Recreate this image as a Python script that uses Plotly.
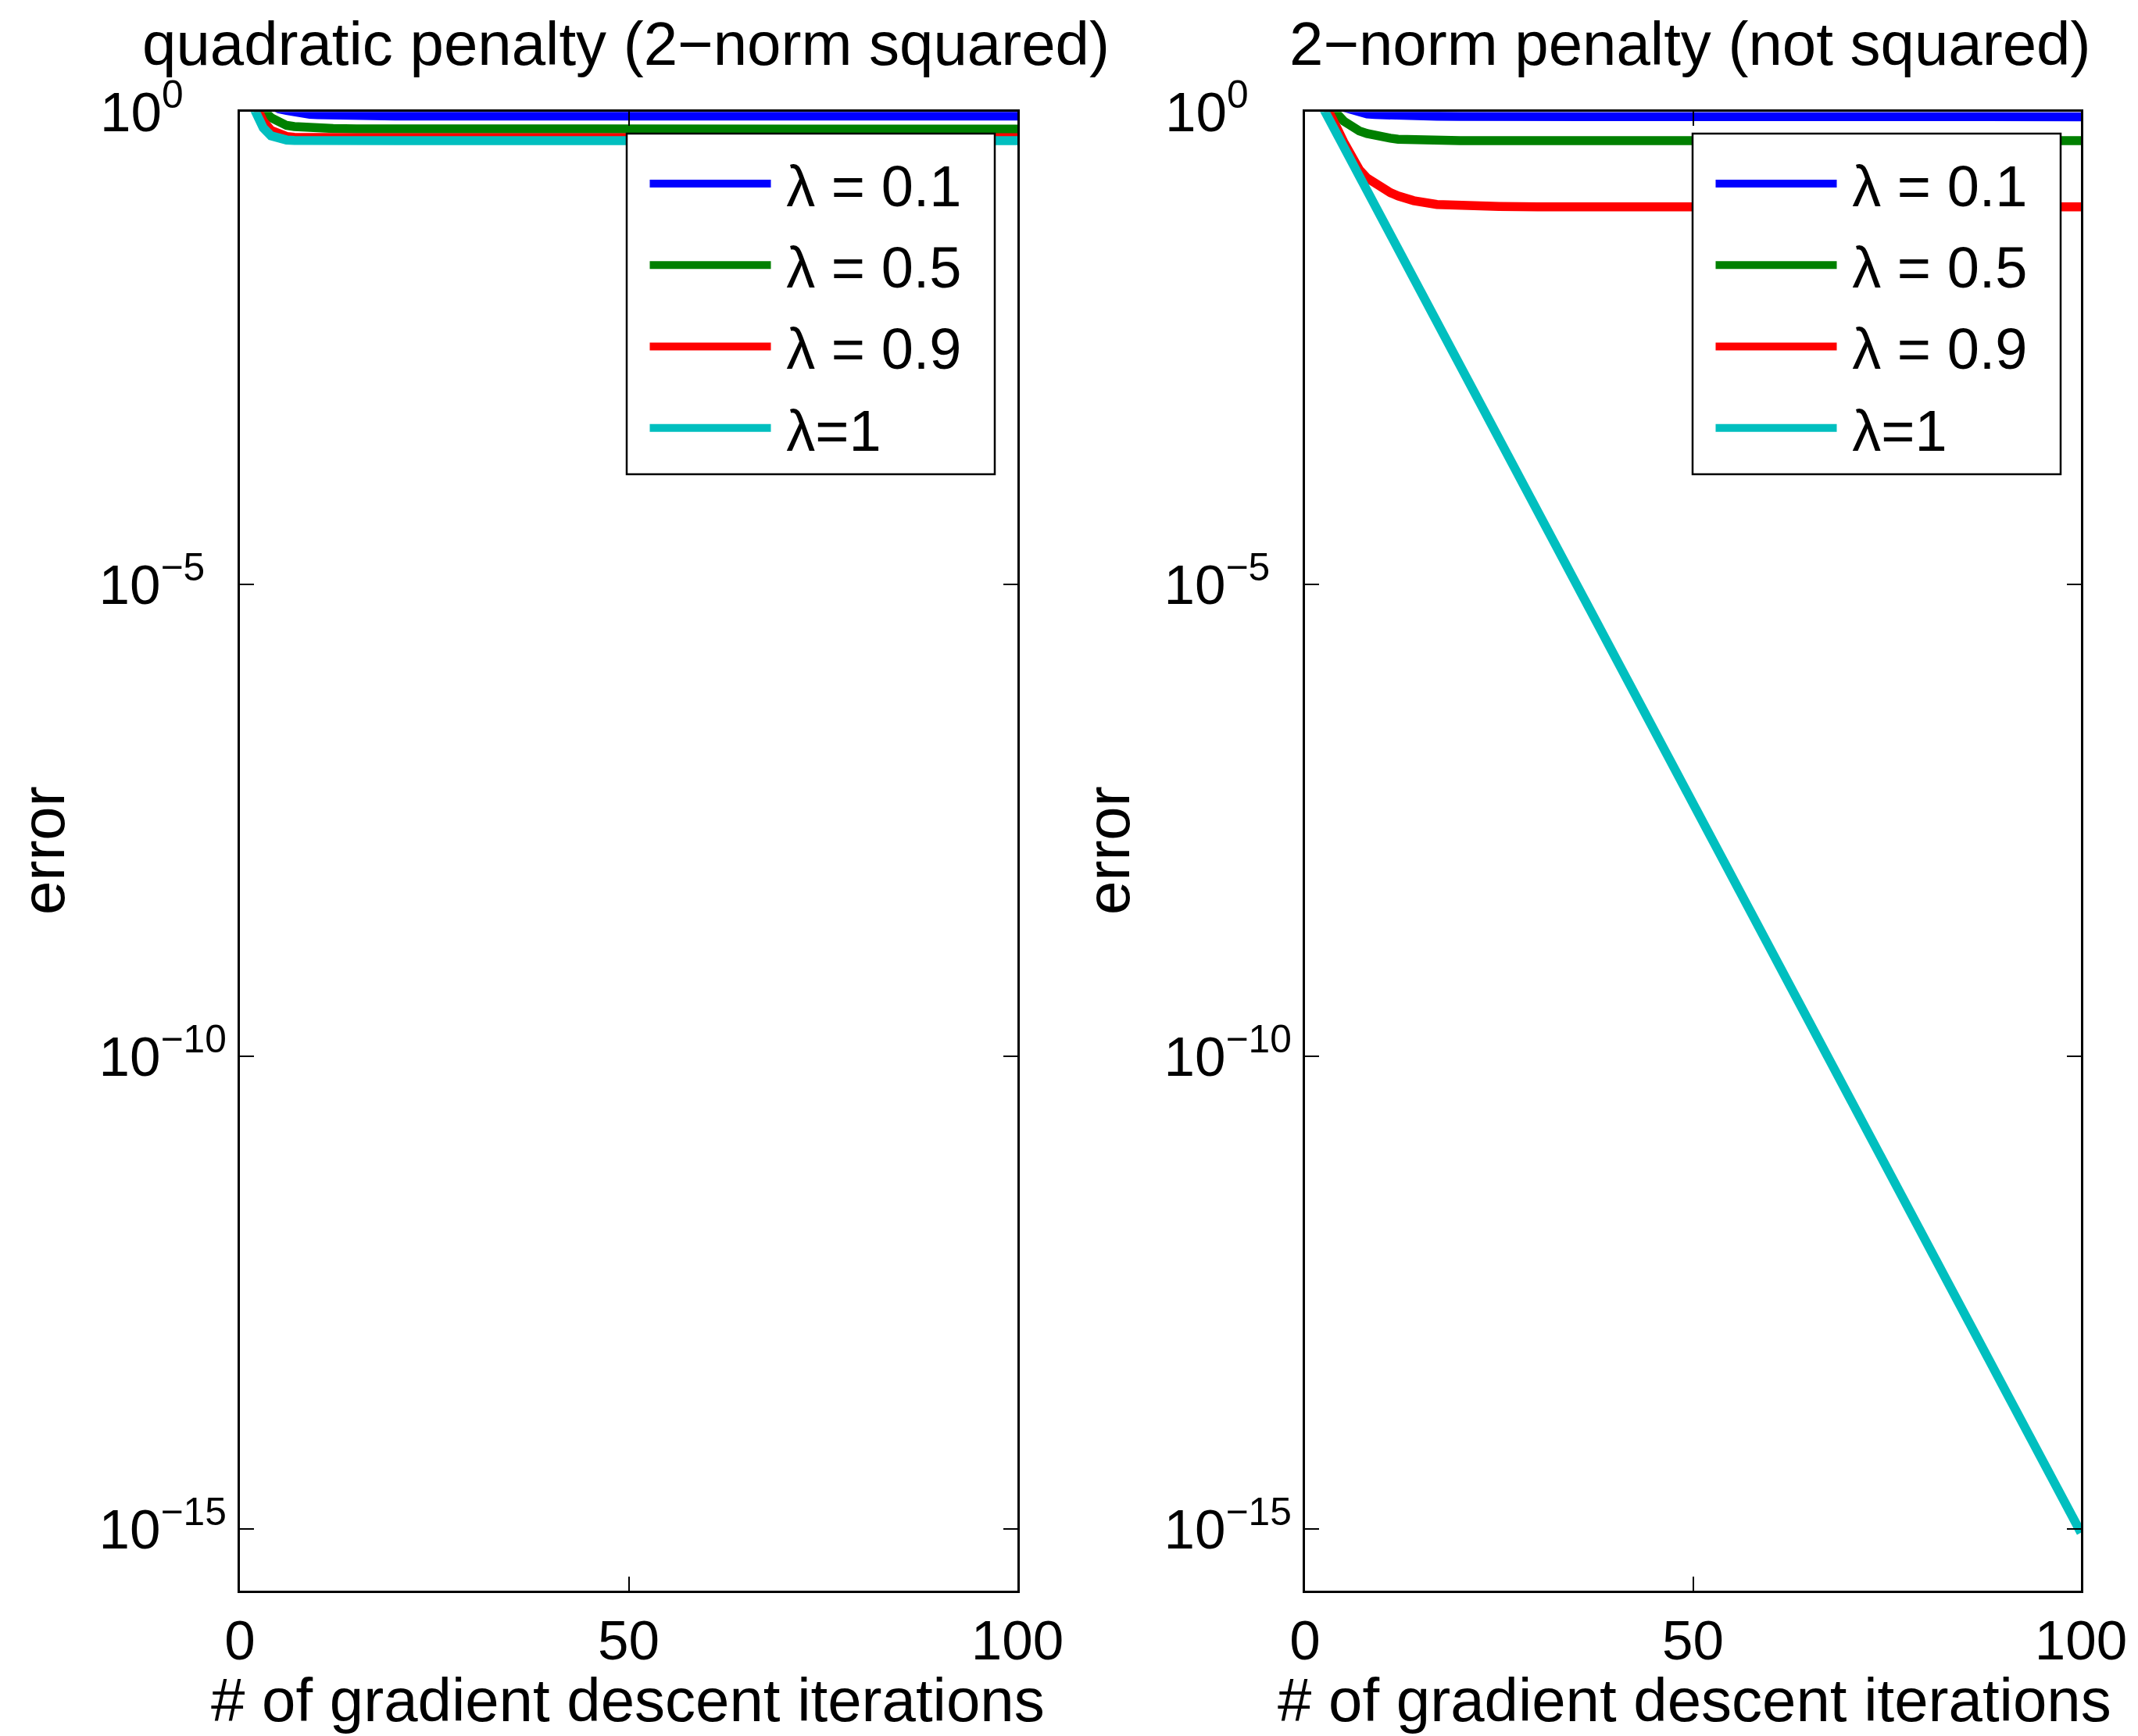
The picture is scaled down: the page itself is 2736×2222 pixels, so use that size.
import plotly.graph_objects as go

# ---------------- data ----------------
series_names = ["λ = 0.1", "λ = 0.5", "λ = 0.9", "λ=1"]
series_colors = ["#0000FF", "#008000", "#FF0000", "#00BFBF"]

# left panel: quadratic penalty (2-norm squared)
iters_quad = [1, 2, 3, 4, 5, 6, 7, 8, 9, 10, 12, 15, 20, 25, 30, 40, 50, 60, 70, 80, 90, 100]
quad_l01 = [1.6, 1.45, 1.3, 1.18, 1.08, 1.04, 0.99, 0.96, 0.945, 0.935, 0.92, 0.91, 0.905,
            0.904, 0.904, 0.904, 0.904, 0.904, 0.904, 0.904, 0.904, 0.904]
quad_l05 = [2.0, 1.4, 1.05, 0.87, 0.77, 0.72, 0.70, 0.69, 0.68, 0.675, 0.668, 0.662, 0.659,
            0.658, 0.658, 0.658, 0.658, 0.658, 0.658, 0.658, 0.658, 0.658]
quad_l09 = [1.8, 1.2, 0.8, 0.64, 0.575, 0.55, 0.54, 0.536, 0.534, 0.533, 0.533, 0.533,
            0.533, 0.533, 0.533, 0.533, 0.533, 0.533, 0.533, 0.533, 0.533, 0.533]
quad_l1 = [1.5, 1.0, 0.68, 0.56, 0.52, 0.505, 0.5, 0.498, 0.497, 0.497, 0.497, 0.497,
           0.497, 0.497, 0.497, 0.497, 0.497, 0.497, 0.497, 0.497, 0.497, 0.497]

# right panel: 2-norm penalty (not squared)
iters_norm = [1, 2, 3, 4, 5, 6, 7, 8, 9, 10, 11, 12, 14, 17, 20, 25, 30, 40, 50, 60, 70, 80, 90, 100]
norm_l01 = [1.7, 1.5, 1.35, 1.22, 1.12, 1.05, 0.98, 0.955, 0.94, 0.93, 0.922, 0.915, 0.908,
            0.9, 0.895, 0.892, 0.89, 0.89, 0.89, 0.89, 0.89, 0.89, 0.89, 0.89]
norm_l05 = [1.8, 1.45, 1.12, 0.98, 0.80, 0.70, 0.63, 0.59, 0.56, 0.54, 0.527, 0.515, 0.506,
            0.5, 0.498, 0.497, 0.497, 0.497, 0.497, 0.497, 0.497, 0.497, 0.497, 0.497]
norm_l09 = [2.2, 1.55, 1.04, 0.71, 0.48, 0.34, 0.245, 0.2, 0.174, 0.155, 0.14, 0.129, 0.115,
            0.105, 0.102, 0.1, 0.099, 0.099, 0.099, 0.099, 0.099, 0.099, 0.099, 0.099]
iters_norm_l1 = [1, 10, 20, 30, 40, 50, 60, 70, 80, 90, 100]
norm_l1 = [1.77, 7.2e-2, 2.06e-3, 5.9e-5, 1.68e-6, 4.8e-8, 1.37e-9, 3.9e-11, 1.12e-12, 3.2e-14, 9.1e-16]

x_tickvals = [0, 50, 100]
y_tickvals = [1, 1e-5, 1e-10, 1e-15]
# exponents padded with figure spaces so the "10" bases line up (as in the reference)
y_ticktext = ["10<sup>0\u2007\u2007</sup>", "10<sup>−5\u2007</sup>",
              "10<sup>−10</sup>", "10<sup>−15</sup>"]

titles = ["quadratic penalty (2−norm squared)", "2−norm penalty (not squared)"]
x_label = "# of gradient descent iterations"
y_label = "error"

# ---------------- layout helpers ----------------
FONT = "Liberation Sans, Arial, Helvetica, sans-serif"
FIG_W, FIG_H = 2736, 2222


def fx(p):
    return p / FIG_W


def fy(p):
    return 1 - p / FIG_H


fig = go.Figure()

quad_series = [(iters_quad, quad_l01), (iters_quad, quad_l05), (iters_quad, quad_l09), (iters_quad, quad_l1)]
norm_series = [(iters_norm, norm_l01), (iters_norm, norm_l05), (iters_norm, norm_l09), (iters_norm_l1, norm_l1)]

LW = 11.5
for i, (xs, ys) in enumerate(quad_series):
    fig.add_trace(go.Scatter(x=xs, y=ys, mode="lines", name="\u2009" + series_names[i],
                             line=dict(color=series_colors[i], width=LW),
                             xaxis="x", yaxis="y", legend="legend", legendgroup=f"q{i}"))
for i, (xs, ys) in enumerate(norm_series):
    fig.add_trace(go.Scatter(x=xs, y=ys, mode="lines", name="\u2009" + series_names[i],
                             line=dict(color=series_colors[i], width=LW),
                             xaxis="x2", yaxis="y2", legend="legend2", legendgroup=f"n{i}"))

axis_common = dict(showline=True, linecolor="black", linewidth=3, mirror="allticks",
                   ticks="inside", ticklen=18, tickwidth=2, tickcolor="black",
                   showgrid=False, zeroline=False, automargin=False,
                   tickfont=dict(family=FONT, size=71, color="black"))

ydom = [fy(2035.5), fy(143.3)]
xaxis_common = dict(axis_common, range=[0, 100], tickmode="array", tickvals=x_tickvals,
                    ticklabelstandoff=0)
yaxis_common = dict(axis_common, type="log", range=[-15.65, 0], tickmode="array",
                    tickvals=y_tickvals, ticktext=y_ticktext, ticklabelstandoff=0)

legend_common = dict(xanchor="left", yanchor="top", bgcolor="rgba(0,0,0,0)",
                     bordercolor="rgba(0,0,0,0)", borderwidth=2.5,
                     font=dict(family=FONT, size=74, color="black"),
                     itemwidth=155, tracegroupgap=5)

fig.update_layout(
    width=FIG_W, height=FIG_H,
    margin=dict(l=0, r=0, t=0, b=0, autoexpand=False),
    paper_bgcolor="white", plot_bgcolor="white",
    font=dict(family=FONT, color="black"),
    xaxis=dict(xaxis_common, domain=[fx(307), fx(1302)], anchor="y"),
    yaxis=dict(yaxis_common, domain=ydom, anchor="x"),
    xaxis2=dict(xaxis_common, domain=[fx(1670), fx(2663)], anchor="y2"),
    yaxis2=dict(yaxis_common, domain=ydom, anchor="x2"),
    legend=dict(legend_common, x=fx(824), y=fy(178)),
    legend2=dict(legend_common, x=fx(2188), y=fy(178)),
)

# legend frames (opaque white boxes behind the legends, as in the reference)
shapes = []
for x0, x1 in [(802, 1273), (2166, 2637)]:
    shapes.append(dict(type="rect", xref="paper", yref="paper",
                       x0=fx(x0), x1=fx(x1), y0=fy(607), y1=fy(171),
                       fillcolor="white", line=dict(color="black", width=2.5), layer="above"))
fig.update_layout(shapes=shapes)

TS = 78
HALF = 0.3465 * TS   # baseline -> text-box centre
ann = []
for cx, t in [(801, titles[0]), (2162, titles[1])]:
    ann.append(dict(text=t, x=fx(cx), y=fy(83 - HALF), xref="paper", yref="paper",
                    xanchor="center", yanchor="middle", showarrow=False,
                    font=dict(family=FONT, size=TS, color="black")))
for cx in [803, 2168]:
    ann.append(dict(text=x_label, x=fx(cx), y=fy(2203 - HALF), xref="paper", yref="paper",
                    xanchor="center", yanchor="middle", showarrow=False,
                    font=dict(family=FONT, size=TS, color="black")))
for cx in [82, 1445]:
    ann.append(dict(text=y_label, x=fx(cx - HALF), y=fy(1088), xref="paper", yref="paper",
                    xanchor="center", yanchor="middle", showarrow=False, textangle=-90,
                    font=dict(family=FONT, size=TS, color="black")))
fig.update_layout(annotations=ann)

fig.write_html("out.html",
               config={"displayModeBar": False},
               post_script="document.body.style.margin='0px';"
                           "document.documentElement.style.overflow='hidden';")
